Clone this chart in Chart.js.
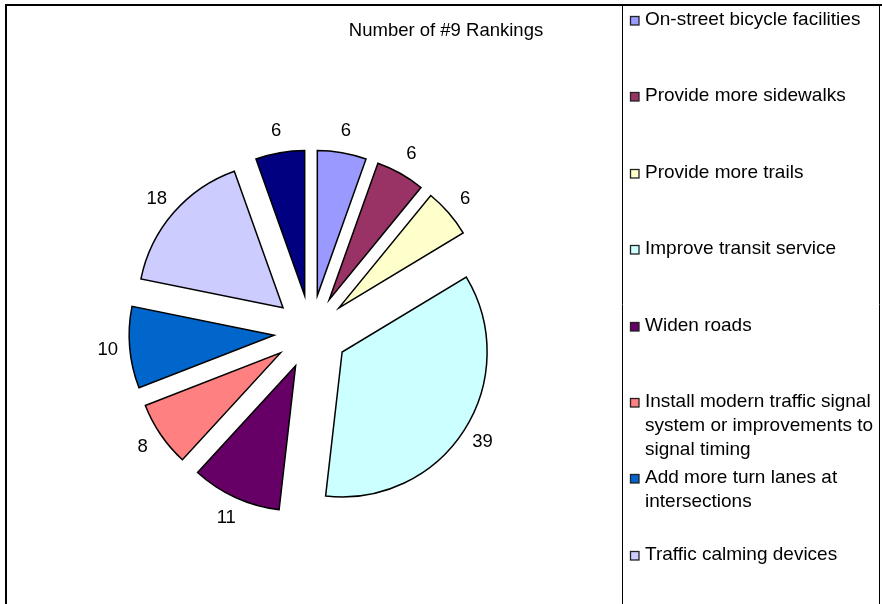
<!DOCTYPE html>
<html>
<head>
<meta charset="utf-8">
<title>Number of #9 Rankings</title>
<script src="https://cdn.jsdelivr.net/npm/chart.js@4.4.0/dist/chart.umd.min.js"></script>
<style>
  body { margin: 0; background: #fff; }
  #wrap { width: 882px; height: 604px; }
</style>
</head>
<body>
<div id="wrap"><canvas id="rankChart" width="882" height="604"></canvas></div>
<script>
var categories = [
  'On-street bicycle facilities',
  'Provide more sidewalks',
  'Provide more trails',
  'Improve transit service',
  'Widen roads',
  ['Install modern traffic signal', 'system or improvements to', 'signal timing'],
  ['Add more turn lanes at', 'intersections'],
  'Traffic calming devices',
  'Other'
];
var rankings = [6, 6, 6, 39, 11, 8, 10, 18, 6];
var sliceColors = ['#9999FF', '#993366', '#FFFFCC', '#CCFFFF', '#660066',
                   '#FF8080', '#0066CC', '#CCCCFF', '#000080'];

var FONT = '"Liberation Sans", Arial, sans-serif';
var PIE_RADIUS = 145;
var EXPLODE = 37;       // every slice is pulled out by the same distance
var LEGEND_LEFT = 622;
var LEGEND_RIGHT = 879;

// pull each slice out along its middle angle, keeping the full radius
var explodePlugin = {
    id: 'explode',
    afterDatasetsUpdate: function(chart) {
        var area = chart.chartArea;
        var cx = (area.left + area.right) / 2;
        var cy = (area.top + area.bottom) / 2;
        chart.getDatasetMeta(0).data.forEach(function(arc) {
            var mid = (arc.startAngle + arc.endAngle) / 2;
            arc.x = cx + Math.cos(mid) * EXPLODE;
            arc.y = cy + Math.sin(mid) * EXPLODE;
        });
    }
};

// value labels just outside each slice
var valueLabels = {
    id: 'valueLabels',
    afterDatasetsDraw: function(chart) {
        var ctx = chart.ctx;
        var values = chart.data.datasets[0].data;
        ctx.save();
        ctx.font = '18.5px ' + FONT;
        ctx.fillStyle = '#000';
        ctx.textAlign = 'center';
        ctx.textBaseline = 'middle';
        chart.getDatasetMeta(0).data.forEach(function(arc, i) {
            var mid = (arc.startAngle + arc.endAngle) / 2;
            var r = arc.outerRadius + 22;
            ctx.fillText(values[i], arc.x + Math.cos(mid) * r, arc.y + Math.sin(mid) * r);
        });
        ctx.restore();
    }
};

// frame, title and the boxed legend on the right
var frameAndLegend = {
    id: 'frameAndLegend',
    afterDraw: function(chart) {
        var ctx = chart.ctx;
        var ds = chart.data.datasets[0];
        ctx.save();

        ctx.strokeStyle = '#000';
        ctx.lineWidth = 2;
        ctx.beginPath();
        ctx.moveTo(6, chart.height);
        ctx.lineTo(6, 5);
        ctx.lineTo(chart.width, 5);
        ctx.stroke();

        ctx.lineWidth = 1;
        ctx.beginPath();
        ctx.moveTo(LEGEND_LEFT + 0.5, 5);
        ctx.lineTo(LEGEND_LEFT + 0.5, chart.height);
        ctx.moveTo(LEGEND_RIGHT + 0.5, 5);
        ctx.lineTo(LEGEND_RIGHT + 0.5, chart.height);
        ctx.stroke();

        ctx.font = '18.5px ' + FONT;
        ctx.fillStyle = '#000';
        ctx.textBaseline = 'middle';
        ctx.textAlign = 'center';
        ctx.fillText('Number of #9 Rankings', 446, 31);

        ctx.font = '19px ' + FONT;
        ctx.textAlign = 'left';
        chart.data.labels.forEach(function(label, i) {
            var y = Math.round(20 + i * 76.4);
            ctx.fillStyle = ds.backgroundColor[i];
            ctx.fillRect(630, y - 4, 9, 9);
            ctx.strokeStyle = '#222';
            ctx.lineWidth = 1.3;
            ctx.strokeRect(630.5, y - 3.5, 8.5, 8.5);
            ctx.fillStyle = '#000';
            var lines = Array.isArray(label) ? label : [label];
            lines.forEach(function(line, j) {
                ctx.fillText(line, 645, y + j * 24);
            });
        });
        ctx.restore();
    }
};

var ctx = document.getElementById('rankChart').getContext('2d');
var myChart = new Chart(ctx, {
    type: 'pie',
    data: {
        labels: categories,
        datasets: [{
            data: rankings,
            backgroundColor: sliceColors,
            borderColor: '#000',
            borderWidth: 1.5,
            borderJoinStyle: 'miter',
            hoverOffset: 0
        }]
    },
    options: {
        responsive: false,
        animation: false,
        radius: PIE_RADIUS,
        layout: { padding: { left: 0, right: 882 - LEGEND_LEFT, top: 60, bottom: 0 } },
        plugins: {
            legend: { display: false },
            title: { display: false },
            tooltip: { enabled: false }
        }
    },
    plugins: [explodePlugin, valueLabels, frameAndLegend]
});
</script>
</body>
</html>
